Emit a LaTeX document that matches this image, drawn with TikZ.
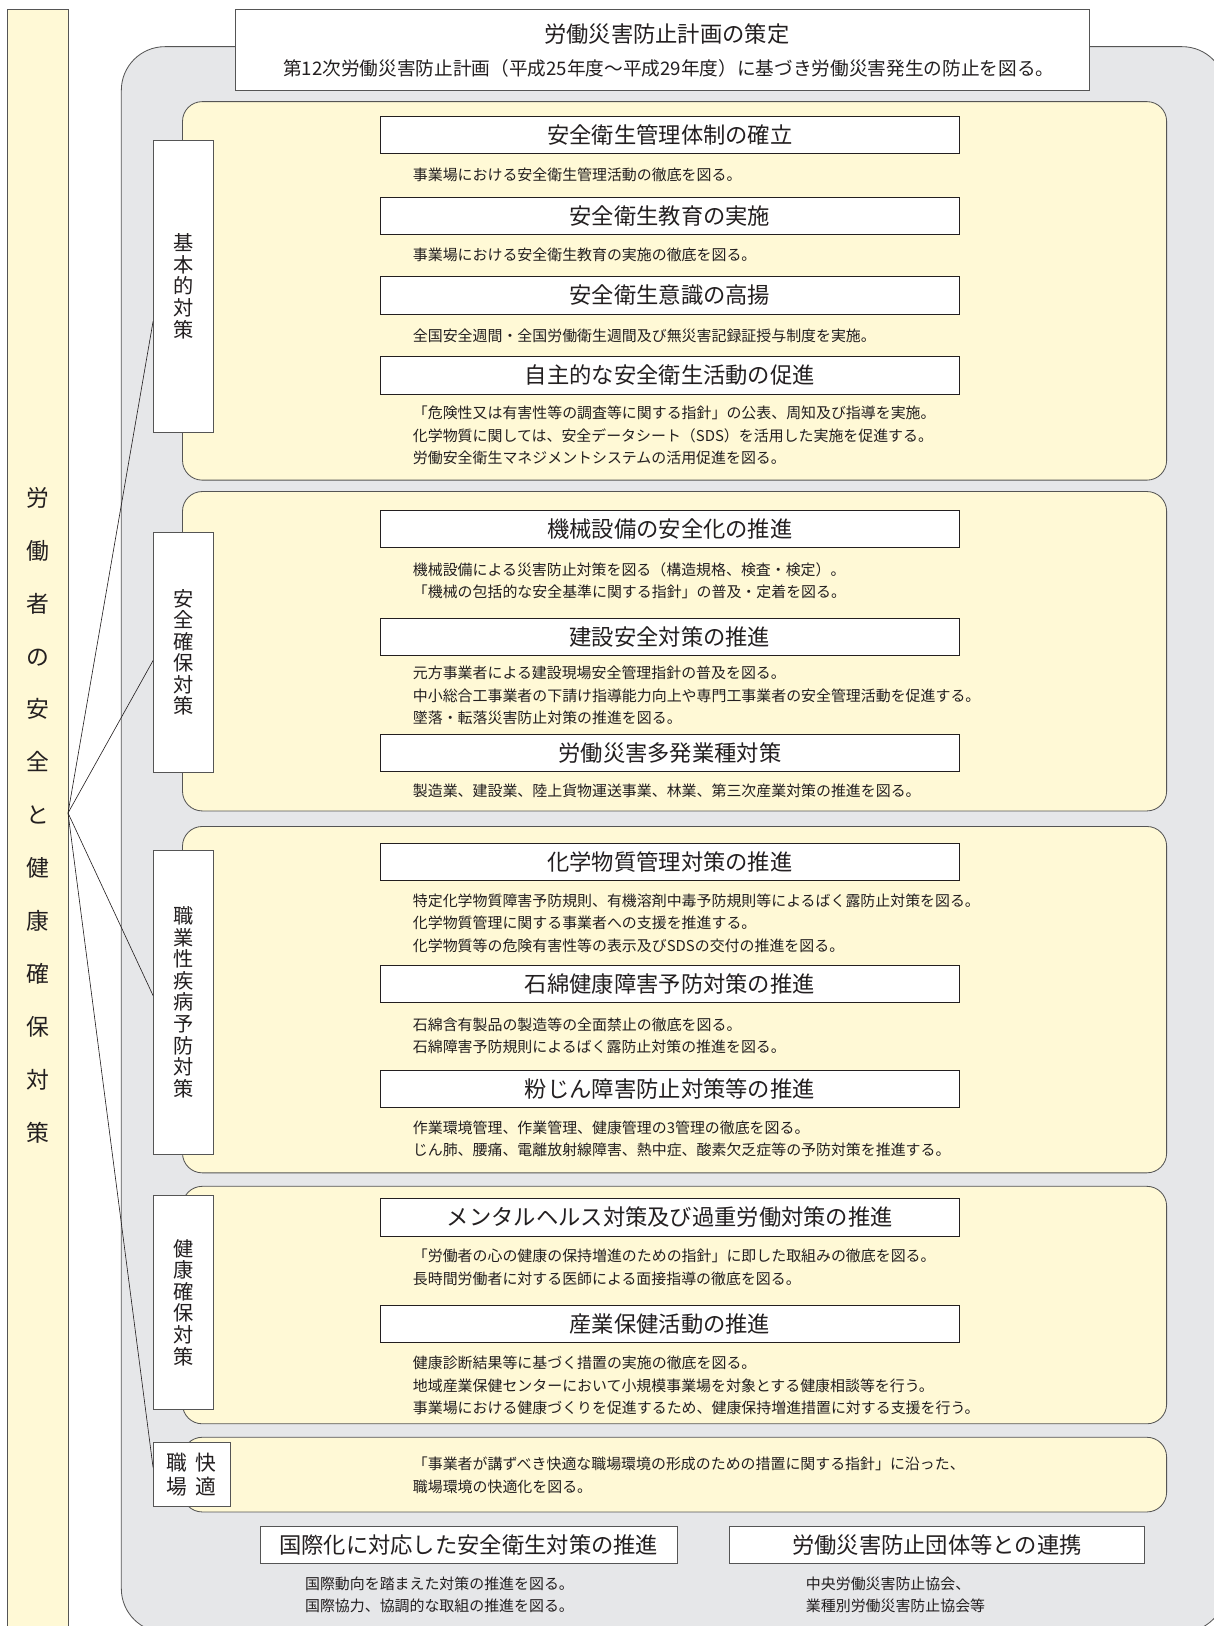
\documentclass[tikz,border=0pt]{standalone}
\usepackage{fontspec}
\setmainfont{Noto Sans CJK JP}
\definecolor{panelyellow}{RGB}{255,249,214}
\definecolor{areagrey}{RGB}{230,231,233}
\definecolor{edgegrey}{RGB}{85,85,85}
\definecolor{inkdark}{RGB}{35,31,32}

\begin{document}
\begin{tikzpicture}[x=1pt, y=-1pt, text=inkdark,
    panel/.style={draw=edgegrey, fill=panelyellow, rounded corners=19pt, line width=0.8pt},
    itembox/.style={draw=inkdark, fill=white, line width=0.9pt, minimum width=558pt, minimum height=36pt, inner sep=0pt, font=\fontsize{21.5}{21.5}\selectfont},
    catbox/.style={draw=edgegrey, fill=white, line width=0.8pt, minimum width=58pt, inner sep=0pt, align=center, font=\fontsize{19.5}{20.8}\selectfont},
    desc/.style={anchor=west, align=left, inner sep=0pt, font=\fontsize{14.4}{21.7}\selectfont},
    link/.style={draw=inkdark, line width=0.6pt}
]
    \useasboundingbox (0,0) rectangle (1170,1568);

    % Draw left bar
    \node (worker) at (36.3, 800) [draw=edgegrey, fill=panelyellow, line width=0.8pt, minimum width=58.6pt, minimum height=1582pt, inner sep=0pt] {};
    \node (workerText) at (37, 786) [align=center, inner sep=0pt, font=\fontsize{22}{51}\selectfont] {労\\働\\者\\の\\安\\全\\と\\健\\康\\確\\保\\対\\策};

    % Draw grey area
    \draw[draw=edgegrey, fill=areagrey, line width=0.8pt, rounded corners=42pt] (117, 45) rectangle (1182, 1574);

    % Draw plan box
    \node (plan) at (639, 48) [draw=edgegrey, fill=white, line width=0.8pt, minimum width=824pt, minimum height=78pt, inner sep=0pt] {};
    \node (planTitle) at (643, 33) [font=\fontsize{21.5}{21.5}\selectfont] {労働災害防止計画の策定};
    \node (planSub) at (645, 66) [font=\fontsize{18}{18}\selectfont] {第12次労働災害防止計画（平成25年度～平成29年度）に基づき労働災害発生の防止を図る。};

    % Draw panels
    \draw[panel] (176, 98) rectangle (1125, 463);
    \draw[panel] (176, 474) rectangle (1125, 782);
    \draw[panel] (176, 797) rectangle (1125, 1131);
    \draw[panel] (176, 1144) rectangle (1125, 1373);
    \draw[panel] (176, 1386) rectangle (1125, 1458);

    % Draw category boxes
    \node (kihon) at (177, 276) [catbox, minimum height=282pt] {基\\本\\的\\対\\策};
    \node (anzen) at (177, 629) [catbox, minimum height=232pt] {安\\全\\確\\保\\対\\策};
    \node (shokugyo) at (177, 966.5) [catbox, minimum height=293pt] {職\\業\\性\\疾\\病\\予\\防\\対\\策};
    \node (kenko) at (177, 1256) [catbox, minimum height=206pt] {健\\康\\確\\保\\対\\策};
    \node (kaiteki) at (185, 1422) [catbox, minimum width=74pt, minimum height=62pt, font=\fontsize{20}{23}\selectfont] {職\hspace{8pt}快\\場\hspace{8pt}適};

    % Draw basic measures
    \node (kanri) at (646, 130) [itembox] {安全衛生管理体制の確立};
    \node (kanriText) at (398, 169) [desc] {事業場における安全衛生管理活動の徹底を図る。};
    \node (kyoiku) at (646, 208) [itembox] {安全衛生教育の実施};
    \node (kyoikuText) at (398, 246) [desc] {事業場における安全衛生教育の実施の徹底を図る。};
    \node (ishiki) at (646, 285) [itembox] {安全衛生意識の高揚};
    \node (ishikiText) at (398, 324) [desc] {全国安全週間・全国労働衛生週間及び無災害記録証授与制度を実施。};
    \node (jishu) at (646, 362) [itembox] {自主的な安全衛生活動の促進};
    \node (jishuText) at (398, 420) [desc] {「危険性又は有害性等の調査等に関する指針」の公表、周知及び指導を実施。\\化学物質に関しては、安全データシート（SDS）を活用した実施を促進する。\\労働安全衛生マネジメントシステムの活用促進を図る。};

    % Draw safety measures
    \node (kikai) at (646, 510) [itembox] {機械設備の安全化の推進};
    \node (kikaiText) at (398, 560) [desc] {機械設備による災害防止対策を図る（構造規格、検査・検定）。\\「機械の包括的な安全基準に関する指針」の普及・定着を図る。};
    \node (kensetsu) at (646, 614) [itembox] {建設安全対策の推進};
    \node (kensetsuText) at (398, 670.7) [desc] {元方事業者による建設現場安全管理指針の普及を図る。\\中小総合工事業者の下請け指導能力向上や専門工事業者の安全管理活動を促進する。\\墜落・転落災害防止対策の推進を図る。};
    \node (tahatsu) at (646, 726) [itembox] {労働災害多発業種対策};
    \node (tahatsuText) at (398, 763) [desc] {製造業、建設業、陸上貨物運送事業、林業、第三次産業対策の推進を図る。};

    % Draw occupational disease measures
    \node (kagaku) at (646, 831) [itembox] {化学物質管理対策の推進};
    \node (kagakuText) at (398, 890.3) [desc] {特定化学物質障害予防規則、有機溶剤中毒予防規則等によるばく露防止対策を図る。\\化学物質管理に関する事業者への支援を推進する。\\化学物質等の危険有害性等の表示及びSDSの交付の推進を図る。};
    \node (sekimen) at (646, 949) [itembox] {石綿健康障害予防対策の推進};
    \node (sekimenText) at (398, 999) [desc] {石綿含有製品の製造等の全面禁止の徹底を図る。\\石綿障害予防規則によるばく露防止対策の推進を図る。};
    \node (funjin) at (646, 1050) [itembox] {粉じん障害防止対策等の推進};
    \node (funjinText) at (398, 1098) [desc] {作業環境管理、作業管理、健康管理の3管理の徹底を図る。\\じん肺、腰痛、電離放射線障害、熱中症、酸素欠乏症等の予防対策を推進する。};

    % Draw health measures
    \node (mental) at (646, 1174) [itembox] {メンタルヘルス対策及び過重労働対策の推進};
    \node (mentalText) at (398, 1222) [desc] {「労働者の心の健康の保持増進のための指針」に即した取組みの徹底を図る。\\長時間労働者に対する医師による面接指導の徹底を図る。};
    \node (hoken) at (646, 1277) [itembox] {産業保健活動の推進};
    \node (hokenText) at (398, 1336.3) [desc] {健康診断結果等に基づく措置の実施の徹底を図る。\\地域産業保健センターにおいて小規模事業場を対象とする健康相談等を行う。\\事業場における健康づくりを促進するため、健康保持増進措置に対する支援を行う。};

    % Draw comfort text
    \node (kaitekiText) at (398, 1422.5) [desc] {「事業者が講ずべき快適な職場環境の形成のための措置に関する指針」に沿った、\\職場環境の快適化を図る。};

    % Draw bottom boxes
    \node (kokusai) at (452, 1490) [itembox, minimum width=402pt, draw=edgegrey] {国際化に対応した安全衛生対策の推進};
    \node (kokusaiText) at (294, 1538) [desc] {国際動向を踏まえた対策の推進を図る。\\国際協力、協調的な取組の推進を図る。};
    \node (dantai) at (903.5, 1490) [itembox, minimum width=401pt, draw=edgegrey] {労働災害防止団体等との連携};
    \node (dantaiText) at (777, 1538) [desc] {中央労働災害防止協会、\\業種別労働災害防止協会等};

    % Draw links
    \coordinate (hub) at (65.6, 784);
    \draw[link] (hub) -- ([yshift=-34pt]kihon.west);
    \draw[link] (hub) -- ([yshift=-8pt]anzen.west);
    \draw[link] (hub) -- ([yshift=6.5pt]shokugyo.west);
    \draw[link] (hub) -- ([yshift=7pt]kaiteki.west);
\end{tikzpicture}
\end{document}
